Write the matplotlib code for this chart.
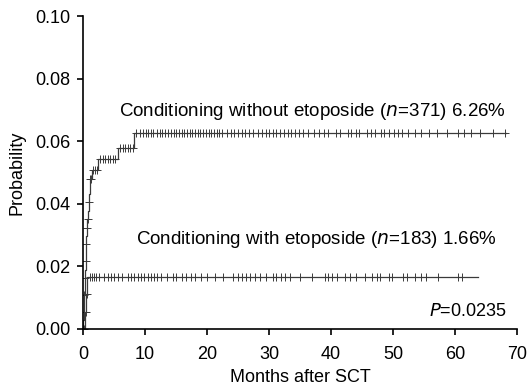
import numpy as np
import matplotlib
matplotlib.use("Agg")
from matplotlib import pyplot as plt

plt.rcParams['font.family'] = ['Liberation Sans', 'DejaVu Sans']

# cumulative incidence, conditioning without etoposide (n=371)
t_wo = [0, 0.05, 0.1, 0.15, 0.2, 0.25, 0.3, 0.35, 0.4, 0.45, 0.5,
        0.55, 0.6, 0.7, 0.8, 0.9, 1.0, 1.1, 1.4, 2.4, 5.6, 8.2]
p_wo = [0, 0.0027, 0.0054, 0.0081, 0.0108, 0.0135, 0.0162, 0.0189, 0.0216,
        0.0243, 0.027, 0.0297, 0.0324, 0.0351, 0.0378, 0.0405, 0.0432,
        0.0479, 0.0508, 0.0543, 0.0578, 0.0626]
end_wo = 68.3
cens_wo = [0.12, 0.22, 0.32, 0.42, 0.52, 0.65, 0.75, 0.95, 1.2, 1.3,
           1.6, 1.9, 2.2, 2.8, 3.2, 3.6, 4.0, 4.4, 4.8, 5.2, 6.0, 6.4,
           6.8, 7.2, 7.6, 8.0,
           8.6, 9.2, 9.6, 10.1, 10.5, 11.0, 11.3, 11.9, 12.4, 12.8, 13.3,
           13.7, 14.2, 14.6, 15.0, 15.5, 15.9, 16.3, 16.8, 17.2, 17.6,
           18.1, 18.5, 18.9, 19.4, 19.8, 20.3, 20.7, 21.2, 21.6, 22.0,
           22.5, 23.3, 23.8, 24.4, 25.0, 25.6, 26.1, 26.7, 27.5, 28.2,
           28.8, 29.5, 30.0, 30.6, 31.2, 31.8, 32.4, 33.0, 33.6, 34.2,
           34.8, 35.5, 36.3, 37.2, 38.0, 38.9, 39.6, 40.8, 41.5, 42.7,
           43.3, 44.0, 44.6, 45.8, 46.5, 47.1, 48.0, 48.6, 49.3, 50.2,
           50.8, 51.5, 52.4, 53.6, 54.5, 55.8, 57.1, 58.8, 60.5, 61.5,
           62.6, 64.0, 66.1, 68.1]

# conditioning with etoposide (n=183)
t_w = [0, 0.3, 0.5, 0.7]
p_w = [0, 0.0055, 0.011, 0.0166]
end_w = 63.7
cens_w = [0.2, 0.4, 0.6, 1.2, 1.5, 1.8, 2.1, 2.6, 3.4, 4.0, 4.5, 5.0, 5.7,
          6.3, 7.2, 7.7, 8.2, 8.8, 9.3, 9.8, 10.4, 11.0, 11.5, 12.0, 12.6,
          13.6, 14.5, 15.0, 16.0, 16.6, 17.4, 18.0, 19.0, 20.0, 21.3, 22.6,
          24.2, 25.0, 25.6, 26.3, 27.0, 27.8, 28.5, 29.5, 30.7, 31.2, 32.0,
          32.6, 33.4, 35.0, 36.9, 39.0, 39.6, 40.1, 40.9, 42.2, 43.0, 44.1,
          45.5, 46.6, 47.4, 47.9, 49.3, 49.8, 51.7, 52.2, 53.6, 54.6, 55.4,
          57.3, 60.5, 61.2]

col = '#3a3a3a'

def step_value(t, p, x):
    i = np.searchsorted(t, x, side='right') - 1
    return np.array(p)[i]

fig = plt.figure(figsize=(5.29, 3.92), dpi=100)
ax = fig.add_axes([0.157, 0.161, 0.82, 0.798])

for t, p, end, cens in [(t_wo, p_wo, end_wo, cens_wo), (t_w, p_w, end_w, cens_w)]:
    tt = list(t) + [end]
    pp = list(p) + [p[-1]]
    ax.plot(tt, pp, drawstyle='steps-post', color=col, lw=0.9)
    ax.plot(cens, step_value(t, p, cens), ls='none', marker='+',
            ms=5.5, mew=0.7, color=col)

ax.text(68.3, 0.0695, 'Conditioning without etoposide ($\\it{n}$=371) 6.26%',
        ha='right', va='center', fontsize=13.5)
ax.text(66.7, 0.0285, 'Conditioning with etoposide ($\\it{n}$=183) 1.66%',
        ha='right', va='center', fontsize=13.5)
ax.text(68.3, 0.0055, '$\\it{P}$=0.0235', ha='right', va='center', fontsize=13)

ax.set_xlim(0, 70)
ax.set_ylim(0, 0.10)
ax.set_xticks(range(0, 71, 10))
ax.set_yticks([0, 0.02, 0.04, 0.06, 0.08, 0.10])
ax.set_yticklabels(['0.00', '0.02', '0.04', '0.06', '0.08', '0.10'])
ax.spines['top'].set_visible(False)
ax.spines['right'].set_visible(False)
ax.spines['left'].set_linewidth(1.2)
ax.spines['bottom'].set_linewidth(1.2)
ax.tick_params(axis='x', direction='out', length=4, width=1.2, labelsize=13, pad=8)
ax.tick_params(axis='y', direction='out', length=4, width=1.2, labelsize=13, pad=5)
ax.set_xlabel('Months after SCT', fontsize=13, labelpad=5)
ax.set_ylabel('Probability', fontsize=13, labelpad=7)

fig.savefig('out.png', dpi=100)
